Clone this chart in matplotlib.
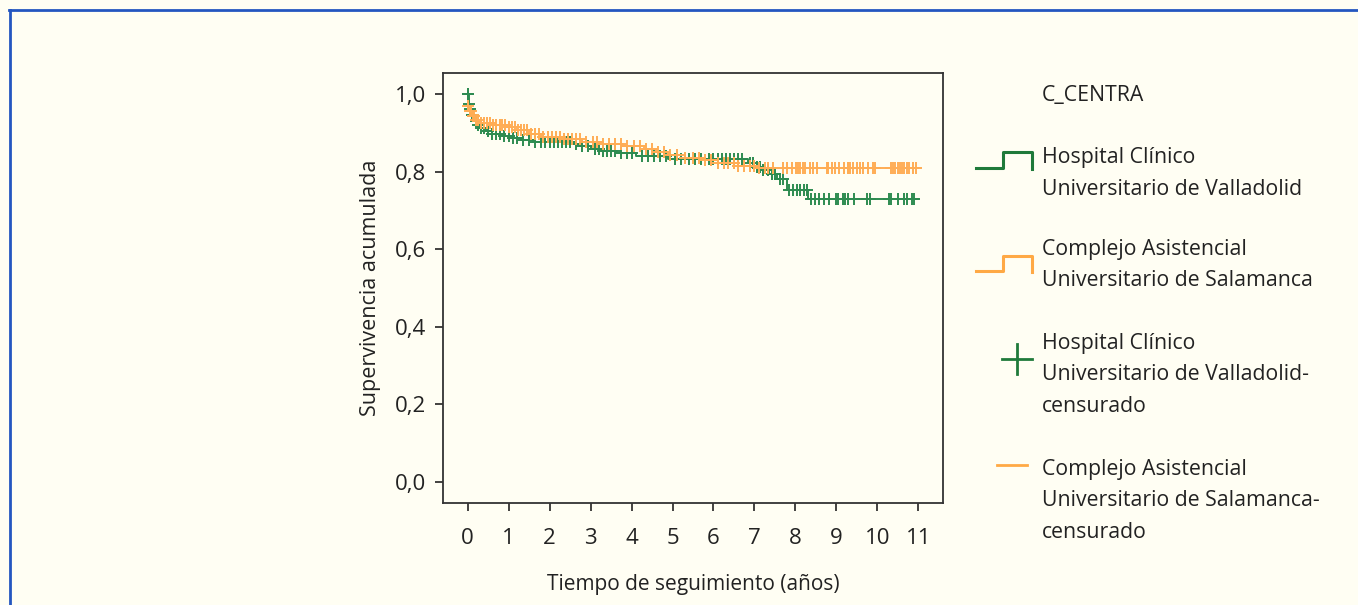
import numpy as np
import matplotlib
matplotlib.use("Agg")
import matplotlib.pyplot as plt
from matplotlib.lines import Line2D

plt.rcParams['font.family'] = ['Open Sans', 'DejaVu Sans']

# Kaplan-Meier steps (time in years, survival after the step)
green_t = [0, 0.03, 0.06, 0.10, 0.15, 0.22, 0.30, 0.45, 0.60, 0.85, 1.05, 1.30, 1.60,
           2.55, 2.75, 3.00, 3.30, 3.65, 4.10, 4.90, 6.85, 7.00, 7.15, 7.35, 7.55, 7.80, 8.30, 11.0]
green_s = [1.0, 0.975, 0.96, 0.945, 0.93, 0.92, 0.912, 0.905, 0.898, 0.892, 0.887, 0.882, 0.876,
           0.870, 0.865, 0.858, 0.853, 0.847, 0.840, 0.833, 0.822, 0.812, 0.803, 0.795, 0.782, 0.753, 0.730, 0.730]

orange_t = [0, 0.02, 0.05, 0.10, 0.18, 0.30, 0.60, 0.95, 1.20, 1.50, 1.80, 2.30, 2.80, 3.30,
            3.80, 4.30, 4.60, 4.90, 5.30, 5.80, 6.10, 6.60, 7.05, 11.0]
orange_s = [0.978, 0.968, 0.955, 0.943, 0.933, 0.926, 0.921, 0.914, 0.906, 0.898, 0.890, 0.884, 0.877, 0.871,
            0.865, 0.858, 0.850, 0.842, 0.836, 0.830, 0.822, 0.815, 0.808, 0.808]

# censored times
green_c = [0.0, 0.01, 0.03, 0.06, 0.10, 0.14, 0.20, 0.26, 0.33, 0.40, 0.50, 0.60, 0.70, 0.80, 0.90,
           1.00, 1.10, 1.20, 1.35, 1.50, 1.65, 1.80, 1.90, 2.00, 2.10, 2.20, 2.30, 2.40, 2.50, 2.65,
           2.80, 2.95, 3.10, 3.20, 3.30, 3.40, 3.50, 3.60, 3.75, 3.90, 4.00, 4.25, 4.40, 4.55, 4.70,
           4.85, 5.05, 5.20, 5.40, 5.55, 5.70, 5.90, 6.00, 6.10, 6.20, 6.30, 6.40, 6.50, 6.60, 6.70,
           6.90, 6.97, 7.07, 7.14, 7.21, 7.33, 7.43, 7.50, 7.63, 7.70, 7.85, 7.94, 8.04, 8.12, 8.20,
           8.28, 8.39, 8.47, 8.57, 8.69, 8.81, 8.98, 9.03, 9.16, 9.22, 9.27, 9.44, 9.75, 9.81, 10.28,
           10.32, 10.50, 10.64, 10.71, 10.85, 10.90]
orange_c = [0.02, 0.05, 0.08, 0.12, 0.16, 0.20, 0.25, 0.32, 0.40, 0.48, 0.55, 0.62, 0.70, 0.78, 0.85,
            0.92, 1.00, 1.08, 1.15, 1.22, 1.30, 1.38, 1.45, 1.55, 1.65, 1.75, 1.85, 1.95, 2.05, 2.15,
            2.25, 2.35, 2.45, 2.55, 2.65, 2.75, 2.90, 3.05, 3.15, 3.30, 3.45, 3.60, 3.75, 3.90, 4.05,
            4.20, 4.35, 4.50, 4.65, 4.80, 4.95, 5.10, 5.30, 5.50, 5.65, 5.80, 5.95, 6.10, 6.25, 6.35,
            6.50, 6.60, 6.75, 6.90, 7.00, 7.10, 7.26, 7.33, 7.46, 7.70, 7.80, 7.92, 8.02, 8.07, 8.12,
            8.19, 8.24, 8.36, 8.44, 8.53, 8.78, 8.80, 8.90, 8.97, 9.07, 9.19, 9.27, 9.29, 9.34, 9.41,
            9.51, 9.58, 9.66, 9.76, 9.88, 9.93, 10.34, 10.39, 10.44, 10.49, 10.54, 10.61, 10.66, 10.73,
            10.78, 10.86, 10.93]

x_ticks = list(range(0, 12))
y_ticks = [0.0, 0.2, 0.4, 0.6, 0.8, 1.0]

GREEN = "#2e8b50"
ORANGE = "#ffad55"
LEG_GREEN = "#1f7a3a"
LEG_ORANGE = "#ffa945"
BG = "#fffef3"
TXT = '#222222'


def surv_at(times, steps_t, steps_s):
    idx = np.searchsorted(steps_t, times, side='right') - 1
    return np.array(steps_s)[np.clip(idx, 0, len(steps_s) - 1)]


W, H = 1358, 605
fig = plt.figure(figsize=(W / 100, H / 100), dpi=100, facecolor=BG)
ax = fig.add_axes([443 / W, 1 - 503 / H, 500 / W, 430 / H], facecolor=BG)

ax.plot(green_t, green_s, drawstyle='steps-post', color=GREEN, lw=1.4)
ax.plot(green_c, surv_at(green_c, green_t, green_s), ls='none', marker='+',
        ms=9, mew=1.4, color=GREEN)
ax.plot(orange_t, orange_s, drawstyle='steps-post', color=ORANGE, lw=1.4)
ax.plot(orange_c, surv_at(orange_c, orange_t, orange_s), ls='none', marker='+',
        ms=9, mew=1.4, color=ORANGE)

ax.set_xlim(-0.6, 11.6)
ax.set_ylim(-0.054, 1.054)
ax.set_xticks(x_ticks)
ax.set_xticklabels([str(v) for v in x_ticks])
ax.set_yticks(y_ticks)
ax.set_yticklabels([f"{v:.1f}".replace('.', ',') for v in y_ticks])
ax.tick_params(direction='out', length=6, width=1.2, colors=TXT, labelsize=16)
ax.tick_params(axis='x', pad=12)
ax.tick_params(axis='y', pad=6)
for sp in ax.spines.values():
    sp.set_color('#333333')
    sp.set_linewidth(1.3)
ax.set_xlabel("Tiempo de seguimiento (años)", fontsize=15, labelpad=18, color=TXT)
ax.set_ylabel("Supervivencia acumulada", fontsize=15.5, labelpad=10, color=TXT)


def px(x, y):
    return x / W, 1 - y / H


# blue frame
fig.add_artist(Line2D([px(9, 0)[0], 1.0], [px(0, 10)[1]] * 2, color='#2456c0', lw=2))
fig.add_artist(Line2D([px(10, 0)[0]] * 2, [px(0, 10)[1], 0.0], color='#2456c0', lw=2))

# legend
fig.text(*px(1042, 95), "C_CENTRA", fontsize=15.3, va='center', color=TXT)
entries = [
    (["Hospital Clínico", "Universitario de Valladolid"], 158),
    (["Complejo Asistencial", "Universitario de Salamanca"], 249),
    (["Hospital Clínico", "Universitario de Valladolid-", "censurado"], 343),
    (["Complejo Asistencial", "Universitario de Salamanca-", "censurado"], 469),
]
for lines, y0 in entries:
    for i, s in enumerate(lines):
        fig.text(*px(1042, y0 + i * 31.5), s, fontsize=15.3, va='center', color=TXT)

for col, yb, yt in [(LEG_GREEN, 168, 152), (LEG_ORANGE, 271, 256)]:
    xs = [976, 1003, 1003, 1032, 1032]
    ys = [yb, yb, yt, yt, yb + 1]
    fig.add_artist(Line2D([x / W for x in xs], [1 - y / H for y in ys], color=col, lw=2.2))
fig.add_artist(Line2D([1002 / W, 1032 / W], [1 - 359 / H] * 2, color=LEG_GREEN, lw=2))
fig.add_artist(Line2D([1017 / W] * 2, [1 - 344 / H, 1 - 374 / H], color=LEG_GREEN, lw=2))
fig.add_artist(Line2D([997 / W, 1027 / W], [1 - 465 / H] * 2, color=LEG_ORANGE, lw=2))

fig.savefig("out.png", dpi=100, facecolor=BG)
